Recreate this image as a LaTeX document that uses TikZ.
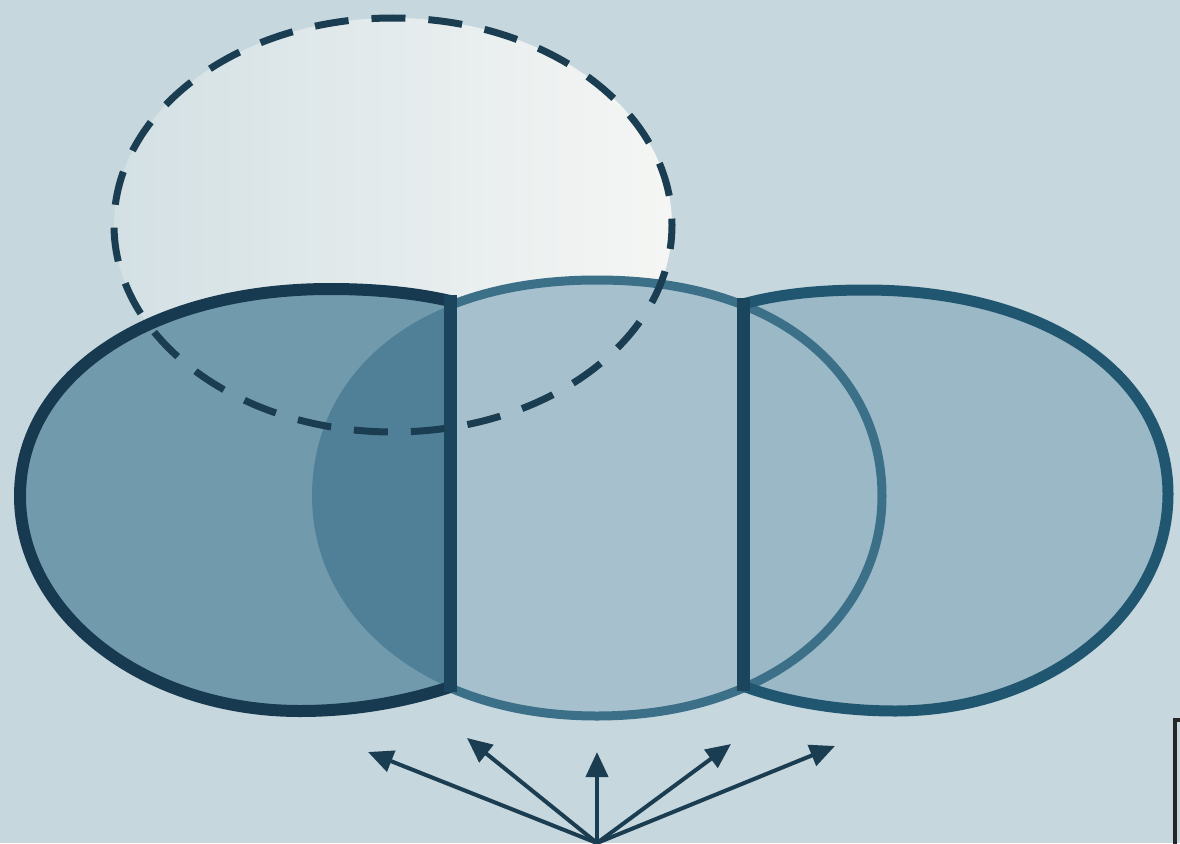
\documentclass[tikz,border=0pt]{standalone}
\usetikzlibrary{arrows.meta}
\definecolor{bg}{HTML}{C7D7DE}
\definecolor{glowA}{HTML}{D3E0E4}
\definecolor{glowB}{HTML}{F5F6F4}
\definecolor{lfill}{HTML}{729AAD}
\definecolor{ofill}{HTML}{4F8097}
\definecolor{mfill}{HTML}{A6C1CD}
\definecolor{rfill}{HTML}{9AB8C5}
\definecolor{lline}{HTML}{173A50}
\definecolor{rline}{HTML}{215670}
\definecolor{mline}{HTML}{3C7089}
\definecolor{vline}{HTML}{1B455C}
\definecolor{ink}{HTML}{1B3D51}
\def\LeftLensTop{(450,687) .. controls (410,700) and (360,711) .. (300,711) .. controls (145,711) and (20,615) .. (20,496) .. controls (20,375) and (150,289) .. (330,289) .. controls (380,289) and (420,294) .. (450,301)}
\def\RightLensTop{(743,304) .. controls (775,295) and (815,290) .. (865,290) .. controls (1046,290) and (1168,375) .. (1168,494) .. controls (1168,614) and (1046,711) .. (895,711) .. controls (835,711) and (780,700) .. (743,686)}
\def\MidLens{(597,280) .. controls (782,280) and (882,376) .. (882,496) .. controls (882,616) and (772,716) .. (597,716) .. controls (422,716) and (312,616) .. (312,496) .. controls (312,376) and (412,280) .. (597,280) -- cycle}
\begin{document}
\begin{tikzpicture}[x=1pt,y=-1pt,
  outlineL/.style={draw=lline, line width=12pt},
  outlineR/.style={draw=rline, line width=11pt},
  outlineM/.style={draw=mline, line width=9pt},
  divider/.style={draw=vline, line width=13pt},
  dashring/.style={draw=ink, line width=7pt, dash pattern=on 34pt off 23pt, dash phase=10pt},
  ray/.style={draw=ink, line width=4pt, -{Triangle[length=25pt,width=22pt]}},
  frameline/.style={draw=black!85, line width=3.5pt}]
\useasboundingbox (0,0) rectangle (1180,843);
\clip (0,0) rectangle (1180,843);
% background
\fill[bg] (0,0) rectangle (1180,843);
% glow inside dashed ring
\shade[left color=glowA, right color=glowB] (393,225) ellipse [x radius=279, y radius=207];
% fills
\fill[lfill] \LeftLensTop -- cycle;
\fill[rfill] \RightLensTop -- cycle;
\begin{scope}
  \clip \LeftLensTop -- cycle;
  \fill[ofill] \MidLens;
\end{scope}
\begin{scope}
  \clip (450,0) rectangle (743,843);
  \fill[mfill] \MidLens;
\end{scope}
% outlines
\begin{scope}
  \clip (450,0) rectangle (1180,843);
  \path[outlineM] \MidLens;
\end{scope}
\path[outlineL] \LeftLensTop;
\path[outlineR] \RightLensTop;
\coordinate (j1) at (450,295);
\coordinate (j2) at (450,692);
\coordinate (j3) at (743,298);
\coordinate (j4) at (743,691);
\path[divider] (j1) -- (j2);
\path[divider] (j3) -- (j4);
% dashed ring
\path[dashring] (393,225) ellipse [x radius=279, y radius=207];
% rays
\coordinate (o) at (597,843);
\coordinate (t1) at (368,752);
\coordinate (t2) at (467,738);
\coordinate (t3) at (597,752);
\coordinate (t4) at (731,744);
\coordinate (t5) at (835,746);
\foreach \t in {t1,t2,t3,t4,t5} \path[ray] (o) -- (\t);
% frame corner
\path[frameline] (1182,720) -- (1175,720) -- (1175,845);
\end{tikzpicture}
\end{document}
